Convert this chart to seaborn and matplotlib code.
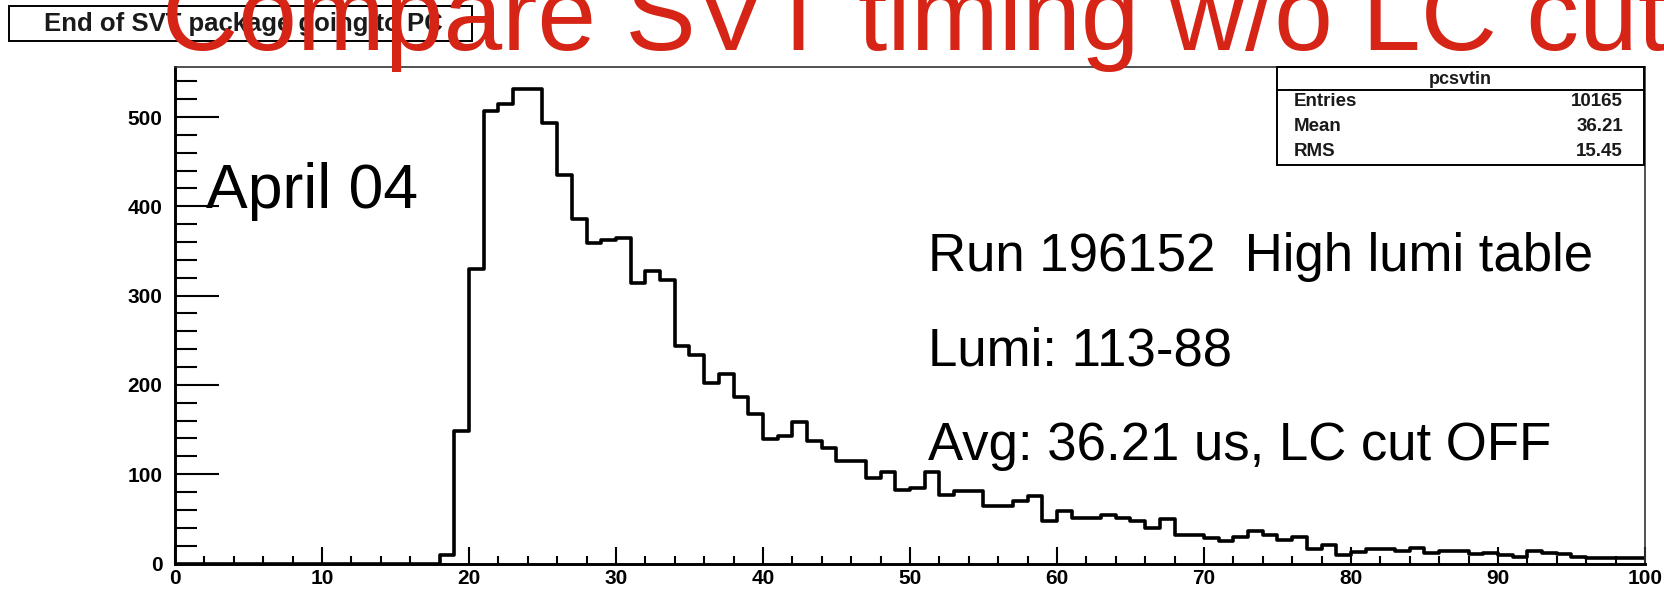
import numpy as np
import pandas as pd
import matplotlib
matplotlib.use("Agg")
import matplotlib.pyplot as plt
import seaborn as sns
from matplotlib.patches import Rectangle
from matplotlib.lines import Line2D
from matplotlib.ticker import MultipleLocator

# histogram pcsvtin: 100 bins of 1 us from 0 to 100
bin_edges = list(range(0, 101))
counts = [0, 0, 0, 0, 0, 0, 0, 0, 0, 0,
          0, 0, 0, 0, 0, 0, 0, 0, 9, 148,
          330, 507, 515, 531, 531, 493, 435, 386, 359, 362,
          365, 314, 327, 317, 244, 234, 202, 212, 186, 167,
          139, 143, 159, 137, 129, 115, 115, 96, 102, 82,
          85, 103, 77, 81, 81, 64, 64, 70, 76, 48,
          59, 51, 51, 54, 51, 48, 40, 50, 32, 32,
          28, 25, 30, 36, 32, 26, 30, 16, 21, 9,
          13, 16, 16, 14, 17, 12, 14, 14, 11, 12,
          9, 7, 14, 12, 11, 7, 6, 6, 6, 6]

hist_name = "pcsvtin"
stat_labels = ["Entries", "Mean", "RMS"]
stat_values = ["10165", "36.21", "15.45"]

W, H = 1665, 591

sns.set_style("ticks")
plt.rcParams['font.family'] = ['Liberation Sans', 'DejaVu Sans']
plt.rcParams['text.color'] = 'black'

fig = plt.figure(figsize=(W / 100, H / 100), dpi=100)
ax = fig.add_axes([175 / W, 27.5 / H, 1470 / W, 496.5 / H])

df = pd.DataFrame({"t": np.array(bin_edges[:-1]) + 0.5, "n": counts})
sns.histplot(data=df, x="t", weights="n", bins=bin_edges, element="step",
             fill=False, color="black", linewidth=2.6, ax=ax)

ax.set_xlim(0, 100)
ax.set_ylim(0, 556)
ax.set_xlabel("")
ax.set_ylabel("")

ax.xaxis.set_major_locator(MultipleLocator(10))
ax.xaxis.set_minor_locator(MultipleLocator(2))
ax.yaxis.set_major_locator(MultipleLocator(100))
ax.yaxis.set_minor_locator(MultipleLocator(20))
ax.tick_params(which="both", direction="in", top=False, right=False,
               width=1.5, color="black", labelcolor="black")
ax.tick_params(axis="y", which="major", length=32, pad=9)
ax.tick_params(axis="y", which="minor", length=16)
ax.tick_params(axis="x", which="major", length=12, pad=4)
ax.tick_params(axis="x", which="minor", length=6)
for lab in ax.get_xticklabels() + ax.get_yticklabels():
    lab.set_fontsize(15)
    lab.set_fontweight("bold")

for side in ["left", "bottom"]:
    ax.spines[side].set_linewidth(2.1)
    ax.spines[side].set_color("black")
for side in ["top", "right"]:
    ax.spines[side].set_linewidth(1.2)
    ax.spines[side].set_color("#333333")

# annotations inside the pad
ax.text(2.1, 398, "April 04", fontsize=45, va="baseline", ha="left",
        color="black")
ax.text(51.2, 328, "Run 196152  High lumi table", fontsize=38,
        va="baseline", ha="left", color="black")
ax.text(51.2, 222, "Lumi: 113-88", fontsize=38, va="baseline", ha="left",
        color="black")
ax.text(51.2, 116, "Avg: 36.21 us, LC cut OFF", fontsize=38,
        va="baseline", ha="left", color="black")


def fx(px):
    return px / W


def fy(py):
    return 1 - py / H


# stats box
fig.patches.append(Rectangle((fx(1277.5), fy(165.5)), fx(1644) - fx(1277.5),
                             fy(67.4) - fy(165.5), transform=fig.transFigure,
                             facecolor="white", edgecolor="black", lw=1.4,
                             zorder=5))
fig.lines.append(Line2D([fx(1277.5), fx(1644)], [fy(90.4), fy(90.4)],
                        transform=fig.transFigure, color="black", lw=1.4,
                        zorder=6))
fig.text(fx(1460.8), fy(79), hist_name, fontsize=13, fontweight="bold",
         ha="center", va="center", color="#1a1a1a", zorder=7)
for i, (lab, val) in enumerate(zip(stat_labels, stat_values)):
    yb = fy(105.6 + i * 25.4)
    fig.text(fx(1294), yb, lab, fontsize=13.5, fontweight="bold",
             ha="left", va="baseline", color="#1a1a1a", zorder=7)
    fig.text(fx(1623), yb, val, fontsize=13.5, fontweight="bold",
             ha="right", va="baseline", color="#1a1a1a", zorder=7)

# ROOT title box
fig.patches.append(Rectangle((fx(9), fy(41)), fx(472) - fx(9), fy(6) - fy(41),
                             transform=fig.transFigure, facecolor="white",
                             edgecolor="black", lw=1.4, zorder=5))
fig.text(fx(44), fy(24), "End of SVT package going to PC", fontsize=18.5,
         fontweight="bold", ha="left", va="center", color="#1a1a1a", zorder=7)

# big red overlay title
fig.text(fx(162), fy(50), "Compare SVT timing w/o LC cut", fontsize=76,
         color="#d62516", ha="left", va="baseline", zorder=10)

fig.savefig("out.png", dpi=100)
plt.close(fig)
